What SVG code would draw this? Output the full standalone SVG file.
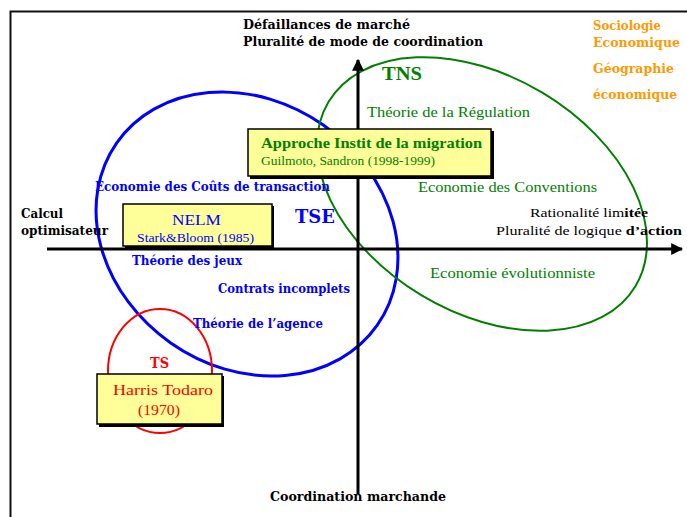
<svg xmlns="http://www.w3.org/2000/svg" width="687" height="517" viewBox="0 0 687 517">
<style>
.bk{font-family:"DejaVu Serif","Liberation Serif",serif;font-weight:bold;font-size:12px;fill:#000}
.bb{font-family:"DejaVu Serif","Liberation Serif",serif;font-weight:bold;font-size:12px;fill:#0000FF}
.or{font-family:"DejaVu Serif","Liberation Serif",serif;font-weight:bold;font-size:12px;fill:#FF9900}
.gr{font-family:"Liberation Serif",serif;font-size:14px;fill:#008000}
.rg{font-family:"Liberation Serif",serif;font-size:13px;fill:#000}
.box{fill:#FFFF99;stroke:#000;stroke-width:1.5}
.shadow{fill:#000}
.ax{stroke:#000;stroke-width:3;fill:none}
</style>
<defs>
<marker id="arr" viewBox="0 0 10 10" refX="9" refY="5" markerWidth="4" markerHeight="4" orient="auto" markerUnits="strokeWidth">
<path d="M0,0 L10,5 L0,10 z" fill="#000"/>
</marker>
</defs>
<rect x="0" y="0" width="687" height="517" fill="#fff"/>
<path d="M10.5,517 V11.5 H687" fill="none" stroke="#111" stroke-width="2"/>

<g id="ellipses">
<ellipse id="tse-area" cx="247" cy="234" rx="159" ry="133" transform="rotate(35 247 234)" fill="none" stroke="#0000FF" stroke-width="3"/>
<ellipse id="tns-area" cx="482" cy="194" rx="179" ry="118" transform="rotate(31 482 194)" fill="none" stroke="#008000" stroke-width="2"/>
<ellipse id="ts-area" cx="160" cy="371" rx="52" ry="62" fill="none" stroke="#FF0000" stroke-width="2"/>
</g>

<g id="connectors">
<line class="ax" x1="47" y1="249" x2="682" y2="249" marker-end="url(#arr)"/>
<line class="ax" x1="358" y1="494" x2="358" y2="60" marker-end="url(#arr)"/>
</g>

<g id="axis-labels">
<text class="bk" x="243" y="29" textLength="167" lengthAdjust="spacingAndGlyphs">Défaillances de marché</text>
<text class="bk" x="243" y="46" textLength="240" lengthAdjust="spacingAndGlyphs">Pluralité de mode de coordination</text>
<text class="bk" x="21" y="218" textLength="42" lengthAdjust="spacingAndGlyphs">Calcul</text>
<text class="bk" x="21" y="235" textLength="87" lengthAdjust="spacingAndGlyphs">optimisateur</text>
<text class="rg" x="530" y="217" textLength="118" lengthAdjust="spacingAndGlyphs">Rationalité lim<tspan font-weight="bold">itée</tspan></text>
<text class="rg" x="496" y="235" textLength="186" lengthAdjust="spacingAndGlyphs">Pluralité de logique <tspan font-weight="bold">d’action</tspan></text>
<text class="bk" x="270" y="501" textLength="176" lengthAdjust="spacingAndGlyphs">Coordination marchande</text>
</g>

<g id="orange-labels">
<text class="or" x="593" y="30" textLength="68" lengthAdjust="spacingAndGlyphs">Sociologie</text>
<text class="or" x="593" y="47" textLength="87" lengthAdjust="spacingAndGlyphs">Economique</text>
<text class="or" x="593" y="73" textLength="81" lengthAdjust="spacingAndGlyphs">Géographie</text>
<text class="or" x="593" y="99" textLength="84" lengthAdjust="spacingAndGlyphs">économique</text>
</g>

<g id="tns-labels">
<text x="382" y="80" font-family="'Liberation Serif',serif" font-weight="bold" font-size="19" fill="#008000" textLength="40" lengthAdjust="spacingAndGlyphs">TNS</text>
<text class="gr" x="367" y="117" textLength="163" lengthAdjust="spacingAndGlyphs">Théorie de la Régulation</text>
<text class="gr" x="418" y="192" textLength="179" lengthAdjust="spacingAndGlyphs">Economie des Conventions</text>
<text class="gr" x="430" y="278" textLength="165" lengthAdjust="spacingAndGlyphs">Economie évolutionniste</text>
</g>

<g id="tse-labels">
<text class="bb" x="95" y="191" textLength="235" lengthAdjust="spacingAndGlyphs">Economie des Coûts de transaction</text>
<text x="295" y="223" font-family="'DejaVu Serif','Liberation Serif',serif" font-weight="bold" font-size="18" fill="#0000FF" textLength="40" lengthAdjust="spacingAndGlyphs">TSE</text>
<text class="bb" x="132" y="265" textLength="110" lengthAdjust="spacingAndGlyphs">Théorie des jeux</text>
<text class="bb" x="218" y="293" textLength="132" lengthAdjust="spacingAndGlyphs">Contrats incomplets</text>
<text class="bb" x="193" y="328" textLength="130" lengthAdjust="spacingAndGlyphs">Théorie de l’agence</text>
</g>

<g id="ts-label">
<text x="150" y="368" font-family="'DejaVu Serif','Liberation Serif',serif" font-weight="bold" font-size="14" fill="#FF0000" textLength="19" lengthAdjust="spacingAndGlyphs">TS</text>
</g>

<g id="approche-node">
<rect class="shadow" x="250" y="131" width="244" height="48"/>
<rect class="box" x="248" y="129" width="243" height="47"/>
<text x="261" y="148" font-family="'Liberation Serif',serif" font-weight="bold" font-size="15" fill="#008000" textLength="221" lengthAdjust="spacingAndGlyphs">Approche Instit de la migration</text>
<text x="261" y="165" font-family="'Liberation Serif',serif" font-size="12" fill="#008000" textLength="174" lengthAdjust="spacingAndGlyphs">Guilmoto, Sandron (1998-1999)</text>
</g>

<g id="nelm-node">
<rect class="shadow" x="125" y="206" width="149" height="43"/>
<rect class="box" x="123" y="204" width="149" height="42"/>
<text x="172" y="225" font-family="'Liberation Serif',serif" font-size="15" fill="#0000FF" textLength="49" lengthAdjust="spacingAndGlyphs">NELM</text>
<text x="137" y="242" font-family="'Liberation Serif',serif" font-size="12" fill="#0000FF" textLength="117" lengthAdjust="spacingAndGlyphs">Stark&amp;Bloom (1985)</text>
</g>

<g id="harris-node">
<rect class="shadow" x="99" y="376" width="125" height="51"/>
<rect class="box" x="97" y="374" width="125" height="50"/>
<text x="113" y="395" font-family="'Liberation Serif',serif" font-size="15" fill="#FF0000" textLength="100" lengthAdjust="spacingAndGlyphs">Harris Todaro</text>
<text x="138" y="415" font-family="'Liberation Serif',serif" font-size="15" fill="#FF0000" textLength="42" lengthAdjust="spacingAndGlyphs">(1970)</text>
</g>
</svg>
